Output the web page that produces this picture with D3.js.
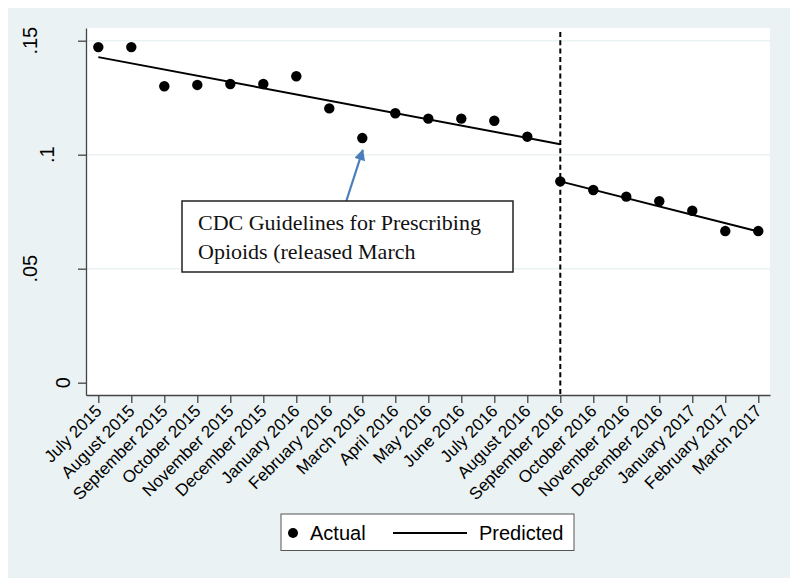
<!DOCTYPE html>
<html>
<head>
<meta charset="utf-8">
<script src="https://cdn.jsdelivr.net/npm/d3@7"></script>
<style>
  html, body { margin: 0; padding: 0; background: #ffffff; }
  svg { display: block; }
</style>
</head>
<body>
<svg id="chart" width="800" height="587"></svg>
<script>
// ---- data ----
const months = ["July 2015","August 2015","September 2015","October 2015","November 2015","December 2015",
  "January 2016","February 2016","March 2016","April 2016","May 2016","June 2016","July 2016","August 2016",
  "September 2016","October 2016","November 2016","December 2016","January 2017","February 2017","March 2017"];
const actual = [0.1472,0.1472,0.1300,0.1306,0.1310,0.1310,0.1344,0.1203,0.1073,0.1182,0.1158,0.1158,0.1149,0.1079,
  0.0883,0.0845,0.0816,0.0796,0.0754,0.0665,0.0665];
// predicted segments (endpoints of fitted lines): [month index, value]
const predictedPre  = [[0, 0.1428], [14, 0.1046]];
const predictedPost = [[14, 0.0883], [20, 0.0663]];
const yTicks = [0, 0.05, 0.1, 0.15];
const yTickLabels = ["0", ".05", ".1", ".15"];
const interventionIndex = 14;
const annotationLines = ["CDC Guidelines for Prescribing", "Opioids (released March"];
const annotatedIndex = 8;
const legendLabels = ["Actual", "Predicted"];

// ---- layout ----
const plot = {left: 86, right: 770, top: 28, bottom: 395};
const svg = d3.select("#chart");

svg.append("rect").attr("x", 8).attr("y", 8).attr("width", 782).attr("height", 570).attr("fill", "#eaf2f3");
svg.append("rect").attr("x", plot.left).attr("y", plot.top)
   .attr("width", plot.right - plot.left).attr("height", plot.bottom - plot.top).attr("fill", "#ffffff");

const x = d3.scaleLinear().domain([-0.373, 20.355]).range([plot.left, plot.right]);
const y = d3.scaleLinear().domain([-0.0054, 0.15557]).range([plot.bottom, plot.top]);

// gridlines
svg.append("g").selectAll("line").data(yTicks.filter(v => v > 0)).join("line")
  .attr("x1", plot.left).attr("x2", plot.right)
  .attr("y1", d => y(d)).attr("y2", d => y(d))
  .attr("stroke", "#eaf2f3").attr("stroke-width", 1.5);

// y axis
const yAxis = svg.append("g").attr("transform", `translate(${plot.left},0)`)
  .call(d3.axisLeft(y).tickValues(yTicks).tickSize(8).tickSizeOuter(0).tickFormat(""));
yAxis.select(".domain").attr("stroke", "#444").attr("stroke-width", 1.3);
yAxis.selectAll(".tick line").attr("stroke", "#444").attr("stroke-width", 1.3);
svg.append("g").selectAll("text").data(yTicks).join("text")
  .attr("transform", (d, i) => `translate(${70 - (yTickLabels[i].length - 1) * 16.5},${y(d)}) rotate(-90)`)
  .attr("text-anchor", "middle")
  .attr("font-family", "Liberation Sans, Arial, sans-serif")
  .attr("font-size", 20).attr("fill", "#000")
  .text((d, i) => yTickLabels[i]);

// x axis
const xAxis = svg.append("g").attr("transform", `translate(0,${plot.bottom})`)
  .call(d3.axisBottom(x).tickValues(d3.range(months.length)).tickSize(8).tickSizeOuter(0)
        .tickFormat(i => months[i]));
xAxis.select(".domain").attr("stroke", "#444").attr("stroke-width", 1.3);
xAxis.selectAll(".tick line").attr("stroke", "#444").attr("stroke-width", 1.3);
xAxis.selectAll(".tick text")
  .attr("font-family", "Liberation Sans, Arial, sans-serif")
  .attr("font-size", 17).attr("fill", "#000")
  .attr("text-anchor", "end")
  .attr("dy", null)
  .attr("y", 0)
  .attr("transform", "translate(4,17) rotate(-45)");

// intervention dashed line
svg.append("line")
  .attr("x1", x(interventionIndex)).attr("x2", x(interventionIndex))
  .attr("y1", plot.top + 4).attr("y2", plot.bottom)
  .attr("stroke", "#000").attr("stroke-width", 2).attr("stroke-dasharray", "5,3.3");

// predicted lines
const line = d3.line().x(d => x(d[0])).y(d => y(d[1]));
[predictedPre, predictedPost].forEach(seg => {
  svg.append("path").attr("d", line(seg)).attr("fill", "none")
    .attr("stroke", "#000").attr("stroke-width", 2);
});

// actual points
svg.append("g").selectAll("circle").data(actual).join("circle")
  .attr("cx", (d, i) => x(i)).attr("cy", d => y(d)).attr("r", 5.2).attr("fill", "#000");

// arrow
const defs = svg.append("defs");
defs.append("marker").attr("id", "arrowhead").attr("viewBox", "0 0 10 10")
  .attr("refX", 9).attr("refY", 5).attr("markerWidth", 5.5).attr("markerHeight", 5)
  .attr("orient", "auto").attr("markerUnits", "strokeWidth")
  .append("path").attr("d", "M0,0 L10,5 L0,10 z").attr("fill", "#4a7ebb");
const tipX = x(annotatedIndex) + 0.5, tipY = y(actual[annotatedIndex]) + 12;
svg.append("line").attr("x1", 345).attr("y1", 205).attr("x2", tipX).attr("y2", tipY)
  .attr("stroke", "#4a7ebb").attr("stroke-width", 2.2).attr("marker-end", "url(#arrowhead)");

// annotation box
svg.append("rect").attr("x", 182).attr("y", 201).attr("width", 331).attr("height", 71)
  .attr("fill", "#fff").attr("stroke", "#222").attr("stroke-width", 1.5);
svg.append("g").selectAll("text").data(annotationLines).join("text")
  .attr("x", 198).attr("y", (d, i) => 230 + i * 29)
  .attr("font-family", "Liberation Serif, 'Times New Roman', serif")
  .attr("font-size", 22).attr("fill", "#111")
  .text(d => d);

// legend
const lg = svg.append("g");
lg.append("rect").attr("x", 281).attr("y", 514).attr("width", 293).attr("height", 36.5)
  .attr("fill", "#fff").attr("stroke", "#555").attr("stroke-width", 1);
lg.append("circle").attr("cx", 293).attr("cy", 533).attr("r", 5).attr("fill", "#000");
lg.append("text").attr("x", 310).attr("y", 540).attr("font-family", "Liberation Sans, Arial, sans-serif")
  .attr("font-size", 20).attr("fill", "#000").text(legendLabels[0]);
lg.append("line").attr("x1", 393).attr("x2", 467).attr("y1", 533).attr("y2", 533)
  .attr("stroke", "#000").attr("stroke-width", 2);
lg.append("text").attr("x", 479).attr("y", 540).attr("font-family", "Liberation Sans, Arial, sans-serif")
  .attr("font-size", 20).attr("fill", "#000").text(legendLabels[1]);
</script>
</body>
</html>
